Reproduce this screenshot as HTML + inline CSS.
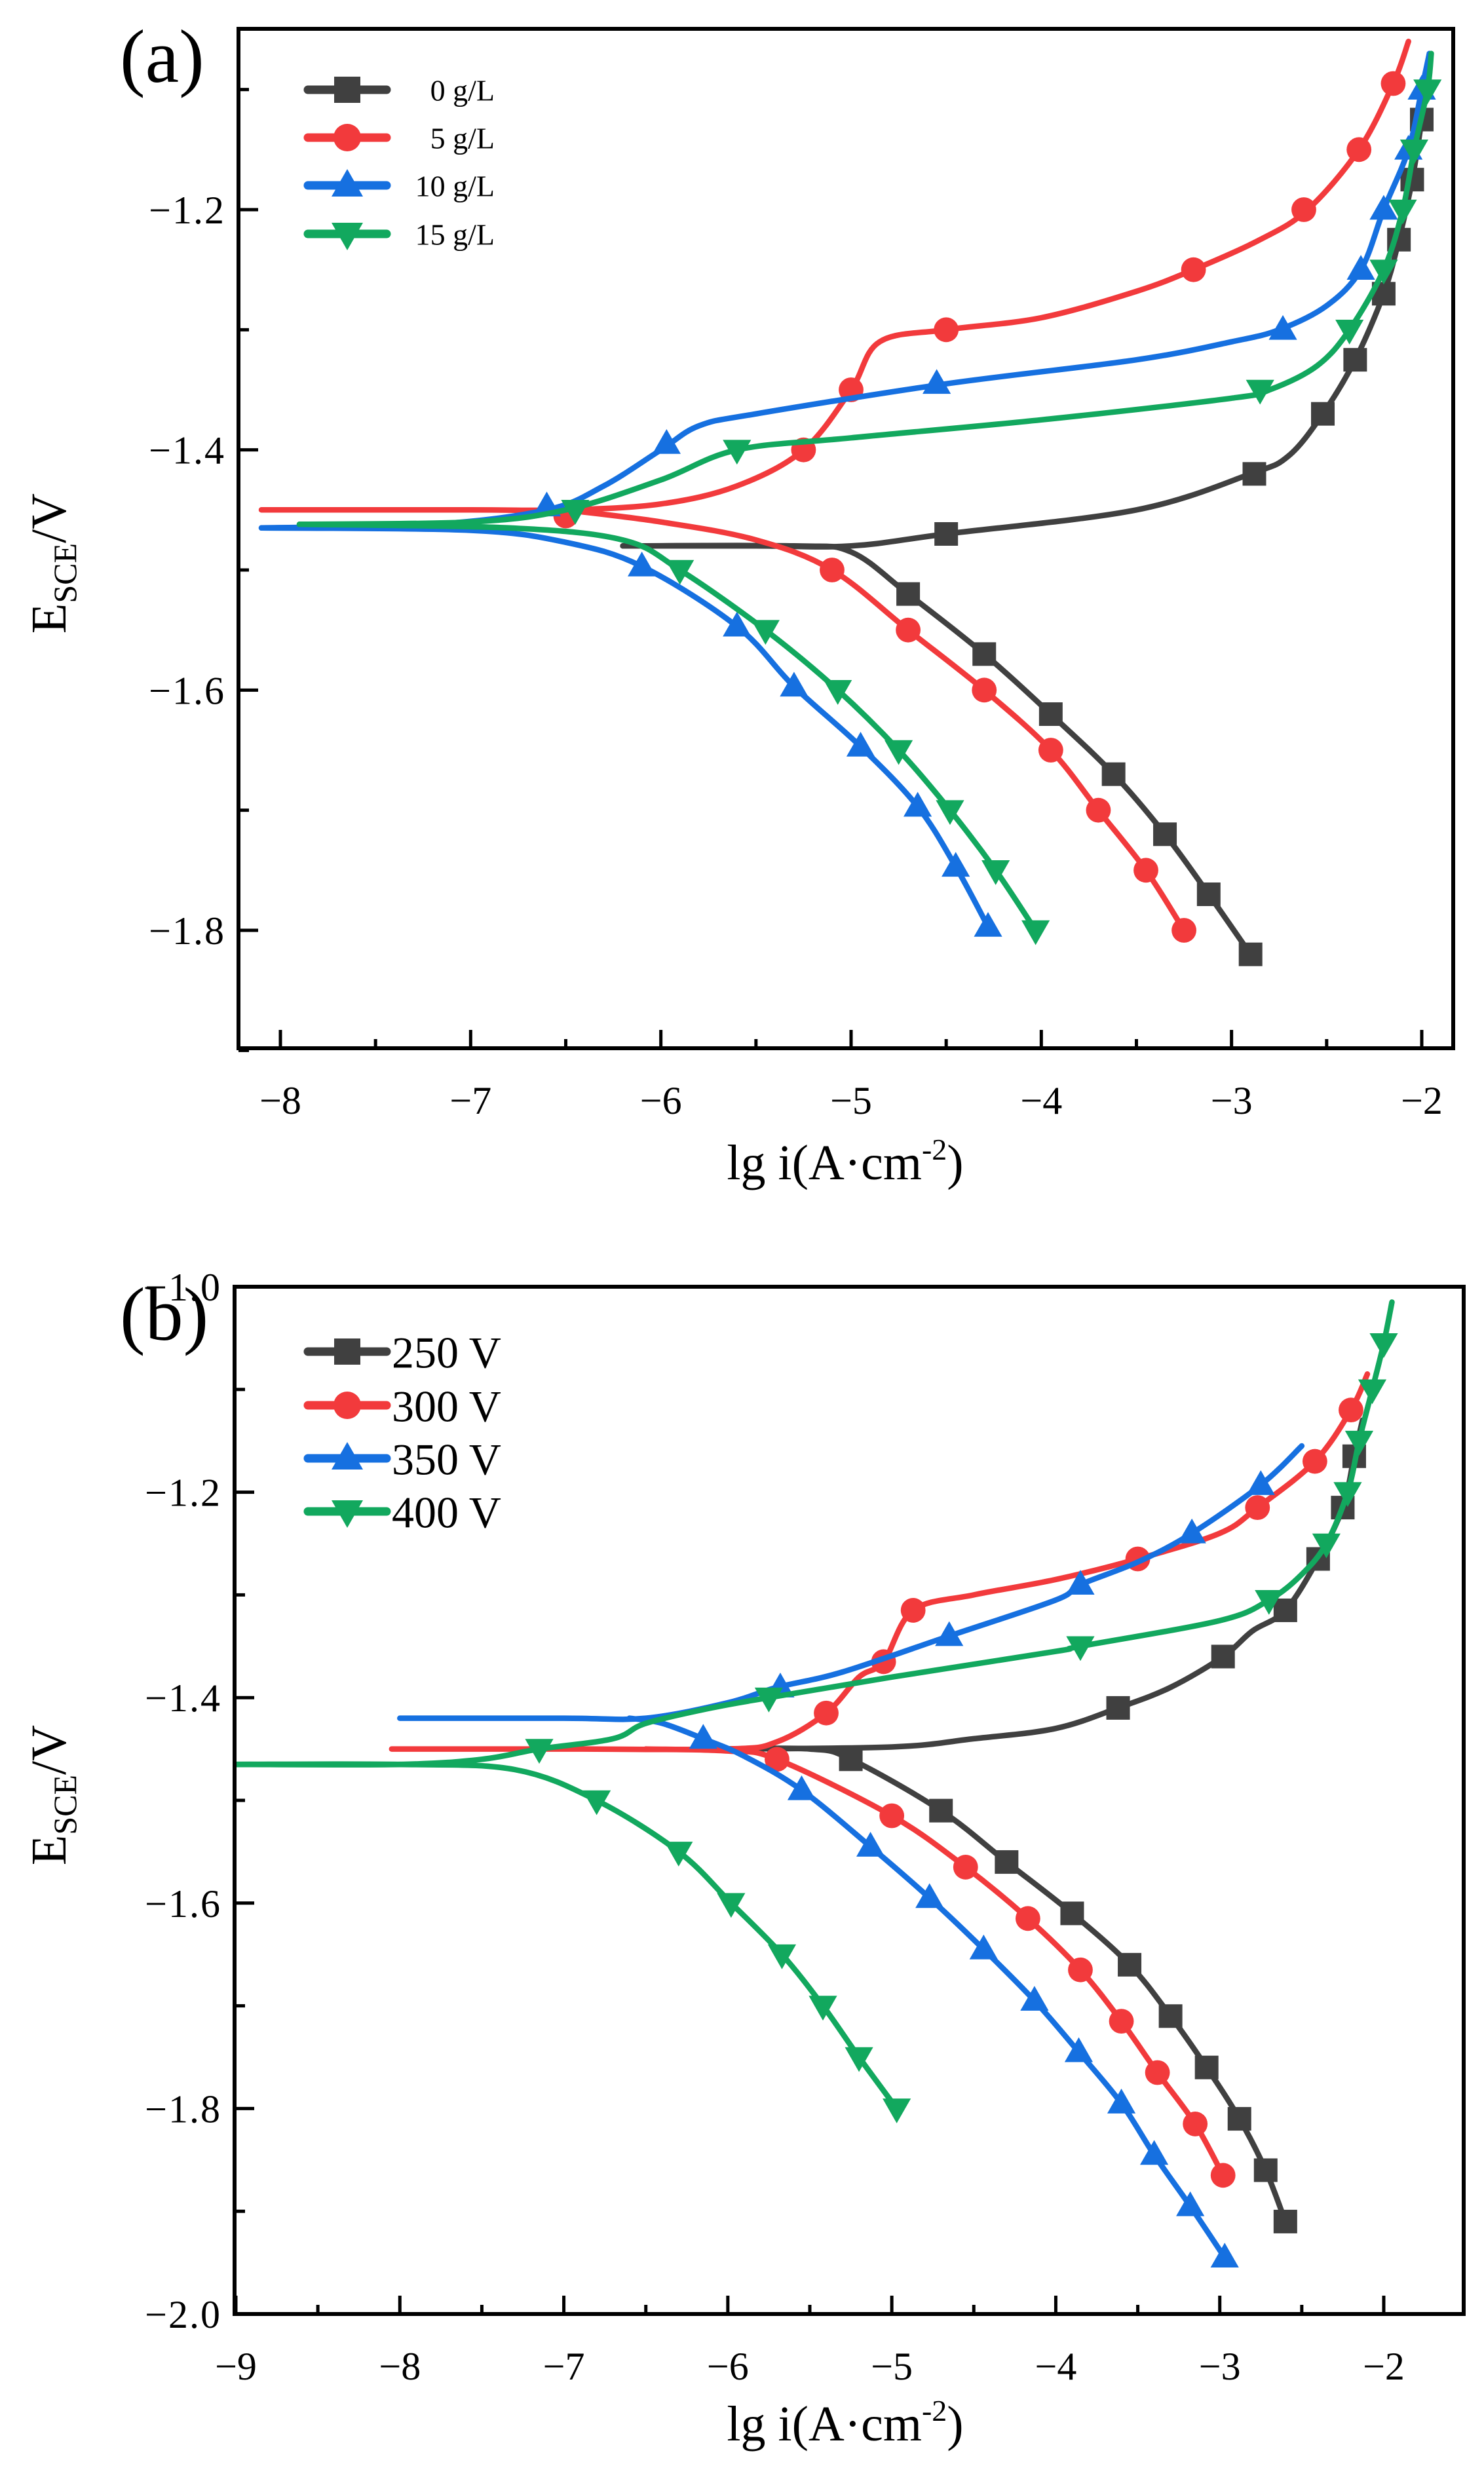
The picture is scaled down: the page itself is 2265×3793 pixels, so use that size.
<!DOCTYPE html>
<html><head><meta charset="utf-8"><style>
html,body{margin:0;padding:0;background:#fff}
svg{display:block}
text{font-family:"Liberation Serif","DejaVu Serif",serif;fill:#000}
</style></head><body>
<svg id="s" xmlns="http://www.w3.org/2000/svg" width="2265" height="3793" viewBox="0 0 2265 3793">
<rect width="2265" height="3793" fill="#fff"/>
<g id="g"></g>
</svg>
<script>
const NS="http://www.w3.org/2000/svg";
const G=document.getElementById('g');
function el(t,a,txt){const e=document.createElementNS(NS,t);for(const k in a)e.setAttribute(k,a[k]);if(txt!==undefined)e.textContent=txt;G.appendChild(e);return e;}
const C={k:'#404040',r:'#f23a3c',b:'#1670e0',g:'#12a85e'};
function smooth(p){let d='M'+p[0][0].toFixed(1)+' '+p[0][1].toFixed(1);
 for(let i=0;i<p.length-1;i++){const p0=p[i-1]||p[i],p1=p[i],p2=p[i+1],p3=p[i+2]||p2;
 const c1=[p1[0]+(p2[0]-p0[0])/6,p1[1]+(p2[1]-p0[1])/6],c2=[p2[0]-(p3[0]-p1[0])/6,p2[1]-(p3[1]-p1[1])/6];
 d+=' C'+c1[0].toFixed(1)+' '+c1[1].toFixed(1)+' '+c2[0].toFixed(1)+' '+c2[1].toFixed(1)+' '+p2[0].toFixed(1)+' '+p2[1].toFixed(1);}return d;}
function marker(type,x,y,col,s){s=s||18;
 if(type=='s')el('rect',{x:x-s,y:y-s,width:2*s,height:2*s,fill:col});
 else if(type=='c')el('circle',{cx:x,cy:y,r:s*1.05,fill:col});
 else if(type=='u')el('polygon',{points:`${x},${y-s*1.25} ${x-s*1.2},${y+s*0.85} ${x+s*1.2},${y+s*0.85}`,fill:col});
 else el('polygon',{points:`${x},${y+s*1.25} ${x-s*1.2},${y-s*0.85} ${x+s*1.2},${y-s*0.85}`,fill:col});}
function panel(P){
 const X=v=>P.x0px+(v-P.x0)*(P.x1px-P.x0px)/(P.x1-P.x0);
 const Y=v=>P.y0px+(v-P.y0)*(P.y1px-P.y0px)/(P.y1-P.y0);
 for(const s of P.series){
  for(const br of s.br){el('path',{d:smooth(br.map(q=>[X(q[0]),Y(q[1])])),fill:'none',stroke:C[s.c],'stroke-width':8.5,'stroke-linejoin':'round','stroke-linecap':'round'});}
  for(const m of s.m)marker(s.t,X(m[0]),Y(m[1]),C[s.c]);
 }
 el('rect',{x:P.L,y:P.T,width:P.R-P.L,height:P.B-P.T,fill:'none',stroke:'#000','stroke-width':6});
 for(let v=P.xt0;v<=P.xt1+1e-6;v+=0.5){const maj=Math.abs(v-Math.round(v))<1e-6;const x=X(v);
  el('line',{x1:x,y1:P.B,x2:x,y2:P.B-(maj?28:14),stroke:'#000','stroke-width':5});
  if(maj)el('text',{x:x,y:P.B+100,'font-size':60,'text-anchor':'middle'},'\u2212'+Math.abs(v));}
 for(let i=0;;i++){const v=+(P.yt0-i*0.1).toFixed(2);if(v<P.yt1-1e-6)break;const y=Y(v);const maj=(Math.round(v*10)%2===0);
  el('line',{x1:P.L,y1:y,x2:P.L+(maj?30:16),y2:y,stroke:'#000','stroke-width':5});
  if(maj)el('text',{x:P.L-20,y:y+21,'font-size':60,'text-anchor':'end','letter-spacing':'2'},'\u2212'+Math.abs(v).toFixed(1));}
 el('text',{x:P.panX,y:P.panY,'font-size':116},P.pan);
 const t=el('text',{x:P.xlX,y:P.xlY,'font-size':76,'text-anchor':'middle'});
 t.innerHTML='lg i(A·cm<tspan dy="-30" font-size="46">-2</tspan><tspan dy="30">)</tspan>';
 const yl=el('text',{transform:`translate(${P.ylX},${P.ylY}) rotate(-90)`,'font-size':76,'text-anchor':'middle'});
 yl.innerHTML='E<tspan dy="16" font-size="50">SCE</tspan><tspan dy="-16">/V</tspan>';
 P.leg.forEach((l,i)=>{const y=P.legY[i];
  el('line',{x1:P.lx0,y1:y,x2:P.lx1,y2:y,stroke:C[l[1]],'stroke-width':13,'stroke-linecap':'round'});
  marker(l[2],(P.lx0+P.lx1)/2,y,C[l[1]],20);
  el('text',{x:P.ltx,y:y+P.lfs*0.36,'font-size':P.lfs,'text-anchor':P.lanc},l[0]);});
}
panel({x0:-8,x1:-2,x0px:428,x1px:2170,y0:-1.2,y1:-1.8,y0px:320,y1px:1420,L:364,R:2218,T:44,B:1600,xt0:-8,xt1:-2,yt0:-1.1,yt1:-1.9,
 pan:'(a)',panX:183,panY:125,xlX:1290,xlY:1800,ylX:100,ylY:860,
 leg:[['0 g/L','k','s'],['5 g/L','r','c'],['10 g/L','b','u'],['15 g/L','g','d']],legY:[137,210,283,357],lx0:470,lx1:590,ltx:755,lfs:46,lanc:'end',
 series:[
 {c:'k',t:'s',br:[[[-6.2,-1.48],[-5.5,-1.48],[-5,-1.48],[-4.5,-1.47],[-3.5,-1.45],[-2.9,-1.42],[-2.7,-1.405],[-2.52,-1.37],[-2.35,-1.325],[-2.2,-1.27],[-2.12,-1.225],[-2.05,-1.175],[-2.0,-1.125],[-1.97,-1.09]],
  [[-6.2,-1.48],[-5.3,-1.48],[-5,-1.485],[-4.7,-1.52],[-4.3,-1.57],[-3.95,-1.62],[-3.62,-1.67],[-3.35,-1.72],[-3.12,-1.77],[-2.9,-1.82]]],
  m:[[-4.5,-1.47],[-2.88,-1.42],[-2.52,-1.37],[-2.35,-1.325],[-2.2,-1.27],[-2.12,-1.225],[-2.05,-1.175],[-2.0,-1.125],[-4.7,-1.52],[-4.3,-1.57],[-3.95,-1.62],[-3.62,-1.67],[-3.35,-1.72],[-3.12,-1.77],[-2.9,-1.82]]},
 {c:'r',t:'c',br:[[[-8.1,-1.45],[-7,-1.45],[-6.5,-1.45],[-6,-1.445],[-5.6,-1.43],[-5.25,-1.40],[-5.0,-1.35],[-4.85,-1.31],[-4.5,-1.30],[-4,-1.29],[-3.5,-1.268],[-3.2,-1.25],[-2.85,-1.225],[-2.6,-1.20],[-2.33,-1.15],[-2.15,-1.095],[-2.07,-1.06]],
  [[-6.5,-1.45],[-6,-1.46],[-5.5,-1.475],[-5.1,-1.50],[-4.7,-1.55],[-4.3,-1.60],[-3.95,-1.65],[-3.7,-1.70],[-3.45,-1.75],[-3.25,-1.80]]],
  m:[[-6.5,-1.455],[-5.25,-1.40],[-5.0,-1.35],[-4.5,-1.30],[-3.2,-1.25],[-2.62,-1.20],[-2.33,-1.15],[-2.15,-1.095],[-5.1,-1.50],[-4.7,-1.55],[-4.3,-1.60],[-3.95,-1.65],[-3.7,-1.70],[-3.45,-1.75],[-3.25,-1.80]]},
 {c:'b',t:'u',br:[[[-8.1,-1.465],[-7.2,-1.462],[-6.6,-1.45],[-6.3,-1.43],[-6.0,-1.40],[-5.8,-1.38],[-5.5,-1.37],[-4.5,-1.345],[-3.5,-1.325],[-3,-1.31],[-2.75,-1.30],[-2.5,-1.28],[-2.32,-1.25],[-2.2,-1.20],[-2.07,-1.15],[-2.0,-1.10],[-1.96,-1.07]],
  [[-8.1,-1.465],[-7,-1.467],[-6.5,-1.477],[-6.1,-1.497],[-5.6,-1.547],[-5.3,-1.597],[-4.95,-1.647],[-4.65,-1.697],[-4.45,-1.747],[-4.28,-1.797]]],
  m:[[-6.6,-1.447],[-5.97,-1.395],[-4.55,-1.345],[-2.73,-1.30],[-2.32,-1.25],[-2.2,-1.20],[-2.07,-1.15],[-2.0,-1.10],[-6.1,-1.497],[-5.6,-1.547],[-5.3,-1.597],[-4.95,-1.647],[-4.65,-1.697],[-4.45,-1.747],[-4.28,-1.797]]},
 {c:'g',t:'d',br:[[[-7.9,-1.462],[-7,-1.46],[-6.5,-1.45],[-6.0,-1.425],[-5.6,-1.40],[-5,-1.39],[-4,-1.375],[-3,-1.357],[-2.8,-1.35],[-2.55,-1.33],[-2.38,-1.30],[-2.2,-1.25],[-2.1,-1.20],[-2.04,-1.15],[-1.97,-1.10],[-1.95,-1.07]],
  [[-7.9,-1.462],[-6.8,-1.465],[-6.2,-1.475],[-5.9,-1.50],[-5.45,-1.55],[-5.07,-1.60],[-4.75,-1.65],[-4.48,-1.70],[-4.24,-1.75],[-4.03,-1.80]]],
  m:[[-6.45,-1.45],[-5.6,-1.40],[-2.85,-1.35],[-2.38,-1.30],[-2.2,-1.25],[-2.1,-1.20],[-2.04,-1.15],[-1.97,-1.10],[-5.9,-1.50],[-5.45,-1.55],[-5.07,-1.60],[-4.75,-1.65],[-4.48,-1.70],[-4.24,-1.75],[-4.03,-1.80]]}
 ]});
panel({x0:-9,x1:-2,x0px:360,x1px:2112,y0:-1.0,y1:-2.0,y0px:1964,y1px:3532,L:358,R:2234,T:1964,B:3532,xt0:-9,xt1:-2,yt0:-1.0,yt1:-2.0,
 pan:'(b)',panX:183,panY:2045,xlX:1290,xlY:3725,ylX:100,ylY:2740,
 leg:[['250 V','k','s'],['300 V','r','c'],['350 V','b','u'],['400 V','g','d']],legY:[2063,2145,2226,2307],lx0:470,lx1:590,ltx:598,lfs:68,lanc:'start',
 series:[
 {c:'k',t:'s',br:[[[-6.05,-1.45],[-5,-1.448],[-4.5,-1.44],[-4,-1.43],[-3.62,-1.41],[-3.3,-1.39],[-2.98,-1.36],[-2.8,-1.335],[-2.6,-1.315],[-2.4,-1.265],[-2.25,-1.215],[-2.18,-1.165],[-2.13,-1.13]],
  [[-6.05,-1.45],[-5.5,-1.45],[-5.25,-1.46],[-4.7,-1.51],[-4.3,-1.56],[-3.9,-1.61],[-3.55,-1.66],[-3.3,-1.71],[-3.08,-1.76],[-2.88,-1.81],[-2.72,-1.86],[-2.6,-1.91]]],
  m:[[-3.62,-1.41],[-2.98,-1.36],[-2.6,-1.315],[-2.4,-1.265],[-2.25,-1.215],[-2.18,-1.165],[-5.25,-1.46],[-4.7,-1.51],[-4.3,-1.56],[-3.9,-1.61],[-3.55,-1.66],[-3.3,-1.71],[-3.08,-1.76],[-2.88,-1.81],[-2.72,-1.86],[-2.6,-1.91]]},
 {c:'r',t:'c',br:[[[-8.05,-1.45],[-7,-1.45],[-6,-1.45],[-5.7,-1.443],[-5.4,-1.415],[-5.2,-1.38],[-5.05,-1.365],[-4.87,-1.315],[-4.5,-1.30],[-4,-1.285],[-3.5,-1.265],[-3,-1.24],[-2.77,-1.215],[-2.42,-1.17],[-2.2,-1.12],[-2.1,-1.085]],
  [[-6.5,-1.45],[-6,-1.452],[-5.7,-1.46],[-5.0,-1.515],[-4.55,-1.565],[-4.17,-1.615],[-3.85,-1.665],[-3.6,-1.715],[-3.38,-1.765],[-3.15,-1.815],[-2.98,-1.865]]],
  m:[[-5.4,-1.415],[-5.05,-1.365],[-4.87,-1.315],[-3.5,-1.265],[-2.77,-1.215],[-2.42,-1.17],[-2.2,-1.12],[-5.7,-1.46],[-5.0,-1.515],[-4.55,-1.565],[-4.17,-1.615],[-3.85,-1.665],[-3.6,-1.715],[-3.38,-1.765],[-3.15,-1.815],[-2.98,-1.865]]},
 {c:'b',t:'u',br:[[[-8,-1.42],[-7,-1.42],[-6.5,-1.42],[-6,-1.405],[-5.7,-1.39],[-5.3,-1.375],[-4.65,-1.34],[-4,-1.305],[-3.85,-1.29],[-3.5,-1.268],[-3.17,-1.24],[-2.75,-1.193],[-2.5,-1.155]],
  [[-6.6,-1.42],[-6.4,-1.425],[-6.15,-1.44],[-5.9,-1.457],[-5.55,-1.49],[-5.13,-1.545],[-4.77,-1.595],[-4.44,-1.645],[-4.13,-1.695],[-3.86,-1.745],[-3.6,-1.795],[-3.4,-1.845],[-3.18,-1.895],[-2.97,-1.945]]],
  m:[[-5.68,-1.39],[-4.65,-1.34],[-3.85,-1.29],[-3.17,-1.24],[-2.75,-1.193],[-6.15,-1.44],[-5.55,-1.49],[-5.13,-1.545],[-4.77,-1.595],[-4.44,-1.645],[-4.13,-1.695],[-3.86,-1.745],[-3.6,-1.795],[-3.4,-1.845],[-3.18,-1.895],[-2.97,-1.945]]},
 {c:'g',t:'d',br:[[[-9,-1.465],[-8,-1.465],[-7.5,-1.46],[-7.15,-1.45],[-6.7,-1.44],[-6.5,-1.425],[-6.1,-1.41],[-5.75,-1.40],[-5,-1.38],[-4,-1.355],[-3.85,-1.35],[-3,-1.325],[-2.7,-1.305],[-2.5,-1.28],[-2.35,-1.25],[-2.22,-1.20],[-2.15,-1.15],[-2.07,-1.10],[-2.0,-1.055],[-1.95,-1.015]],
  [[-9,-1.465],[-8,-1.465],[-7.3,-1.47],[-6.8,-1.50],[-6.3,-1.55],[-5.98,-1.60],[-5.67,-1.65],[-5.42,-1.70],[-5.2,-1.75],[-4.97,-1.80]]],
  m:[[-7.15,-1.45],[-5.75,-1.40],[-3.85,-1.35],[-2.7,-1.305],[-2.35,-1.25],[-2.22,-1.20],[-2.15,-1.15],[-2.07,-1.10],[-2.0,-1.055],[-6.8,-1.50],[-6.3,-1.55],[-5.98,-1.60],[-5.67,-1.65],[-5.42,-1.70],[-5.2,-1.75],[-4.97,-1.80]]}
 ]});
</script>
</body></html>
